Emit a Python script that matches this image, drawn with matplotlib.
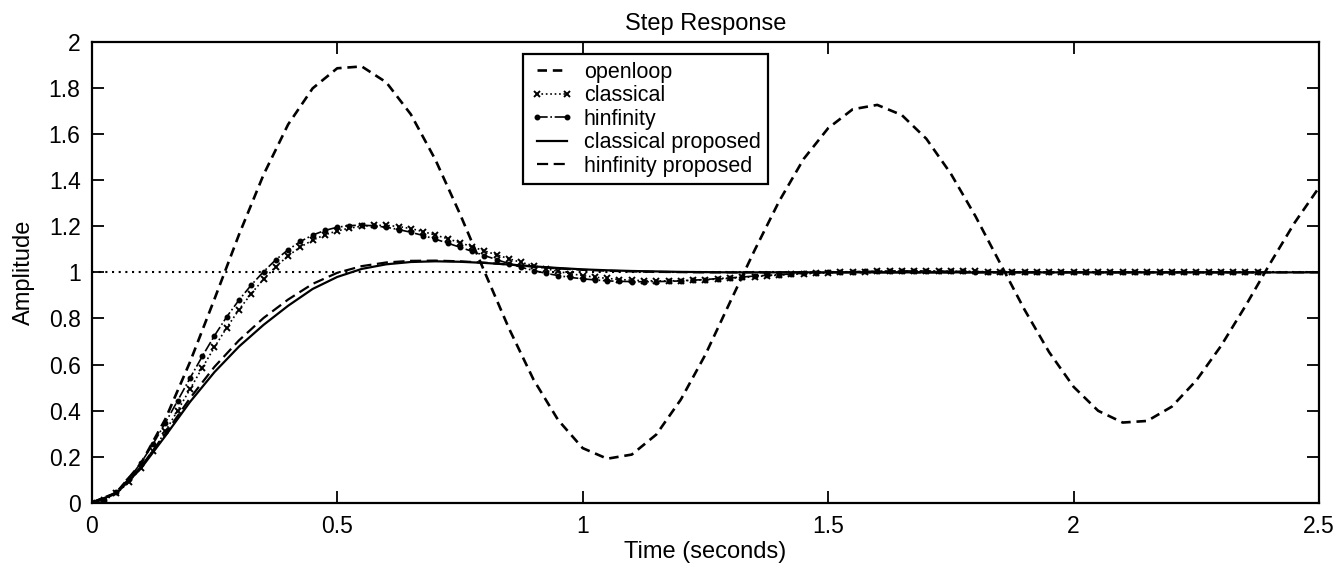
import numpy as np
import matplotlib
matplotlib.use('Agg')
import matplotlib.pyplot as plt

plt.rcParams['font.family'] = ['Liberation Sans', 'DejaVu Sans']

# sampling grids (s)
t_coarse = np.round(np.arange(51) * 0.05, 3)   # 0 .. 2.5
t_fine = np.round(np.arange(96) * 0.025, 3)     # 0 .. 2.375

openloop = [0.000, 0.043, 0.169, 0.363, 0.610, 0.884, 1.164, 1.424, 1.642, 1.799,
            1.886, 1.894, 1.825, 1.686, 1.489, 1.254, 1.003, 0.756, 0.534, 0.359,
            0.237, 0.191, 0.209, 0.296, 0.448, 0.643, 0.870, 1.095, 1.308, 1.492,
            1.626, 1.708, 1.727, 1.683, 1.580, 1.428, 1.244, 1.041, 0.838, 0.654,
            0.503, 0.399, 0.348, 0.355, 0.417, 0.531, 0.680, 0.854, 1.038, 1.215,
            1.369]

classical = [0.000, 0.010, 0.040, 0.088, 0.150, 0.225, 0.310, 0.400, 0.492, 0.585,
             0.675, 0.760, 0.838, 0.908, 0.970, 1.025, 1.072, 1.110, 1.140, 1.163,
             1.180, 1.192, 1.200, 1.204, 1.204, 1.199, 1.190, 1.177, 1.162, 1.146,
             1.129, 1.111, 1.093, 1.076, 1.059, 1.043, 1.029, 1.016, 1.004, 0.994,
             0.986, 0.979, 0.974, 0.969, 0.966, 0.964, 0.963, 0.963, 0.964, 0.966,
             0.968, 0.971, 0.974, 0.978, 0.981, 0.985, 0.988, 0.991, 0.994, 0.996,
             0.998, 1.000, 1.002, 1.003, 1.004, 1.005, 1.005, 1.006, 1.006, 1.005,
             1.005, 1.004, 1.004, 1.003, 1.002, 1.002, 1.001, 1.001, 1.000, 1.000,
             1.000, 1.000, 1.000, 1.000, 1.000, 1.000, 1.000, 1.000, 1.000, 1.000,
             1.000, 1.000, 1.000, 1.000, 1.000, 1.000]

hinfinity = [0.000, 0.012, 0.047, 0.102, 0.172, 0.255, 0.347, 0.443, 0.540, 0.635,
             0.725, 0.807, 0.880, 0.945, 1.003, 1.055, 1.098, 1.134, 1.162, 1.182,
             1.196, 1.203, 1.205, 1.202, 1.196, 1.186, 1.174, 1.160, 1.144, 1.127,
             1.109, 1.091, 1.073, 1.055, 1.038, 1.022, 1.008, 0.996, 0.986, 0.978,
             0.972, 0.967, 0.963, 0.961, 0.960, 0.959, 0.960, 0.961, 0.963, 0.966,
             0.969, 0.973, 0.976, 0.980, 0.984, 0.987, 0.990, 0.993, 0.996, 0.998,
             1.000, 1.002, 1.003, 1.004, 1.005, 1.006, 1.006, 1.006, 1.006, 1.005,
             1.005, 1.004, 1.003, 1.002, 1.002, 1.001, 1.000, 1.000, 1.000, 1.000,
             1.000, 1.000, 1.000, 1.000, 1.000, 1.000, 1.000, 1.000, 1.000, 1.000,
             1.000, 1.000, 1.000, 1.000, 1.000, 1.000]

classical_prop = [0.000, 0.040, 0.148, 0.290, 0.437, 0.567, 0.678, 0.772, 0.855, 0.928,
                  0.980, 1.015, 1.035, 1.045, 1.048, 1.046, 1.041, 1.034, 1.026, 1.019,
                  1.013, 1.009, 1.006, 1.004, 1.002, 1.001, 1.000, 1.000, 1.000, 1.000,
                  1.000, 1.000, 1.000, 1.000, 1.000, 1.000, 1.000, 1.000, 1.000, 1.000,
                  1.000, 1.000, 1.000, 1.000, 1.000, 1.000, 1.000, 1.000, 1.000, 1.000,
                  1.000]

hinf_prop = [0.000, 0.042, 0.155, 0.300, 0.453, 0.590, 0.705, 0.802, 0.882, 0.950,
             0.998, 1.027, 1.043, 1.050, 1.051, 1.048, 1.042, 1.034, 1.025, 1.017,
             1.011, 1.007, 1.004, 1.002, 1.001, 1.000, 1.000, 1.000, 1.000, 1.000,
             1.000, 1.000, 1.000, 1.000, 1.000, 1.000, 1.000, 1.000, 1.000, 1.000,
             1.000, 1.000, 1.000, 1.000, 1.000, 1.000, 1.000, 1.000, 1.000, 1.000,
             1.000]

x_ticks = [0, 0.5, 1, 1.5, 2, 2.5]
x_tick_labels = ['0', '0.5', '1', '1.5', '2', '2.5']
y_ticks = [0, 0.2, 0.4, 0.6, 0.8, 1, 1.2, 1.4, 1.6, 1.8, 2]
y_tick_labels = ['0', '0.2', '0.4', '0.6', '0.8', '1', '1.2', '1.4', '1.6', '1.8', '2']
steady_state = 1.0


fig = plt.figure(figsize=(13.43, 5.74), dpi=100)
ax = fig.add_axes([0.0683, 0.1242, 0.9139, 0.8026])

ax.axhline(steady_state, color='black', linestyle=(0, (1, 2.2)), linewidth=1.5)

ax.plot(t_coarse, openloop, color='black', linestyle=(0, (3.6, 2.2)), linewidth=1.9,
        label='openloop')
ax.plot(t_fine, classical, color='black', linestyle=':', linewidth=1.2,
        marker='x', markersize=4.5, markeredgewidth=1.4, label='classical')
ax.plot(t_fine, hinfinity, color='black', linestyle='-.', linewidth=1.2,
        marker='.', markersize=6.5, label='hinfinity')
ax.plot(t_coarse, classical_prop, color='black', linestyle='-', linewidth=1.6,
        label='classical proposed')
ax.plot(t_coarse, hinf_prop, color='black', linestyle=(0, (5, 2.5)), linewidth=1.6,
        label='hinfinity proposed')

ax.set_xlim(0, 2.5)
ax.set_ylim(0, 2)
ax.set_xticks(x_ticks)
ax.set_xticklabels(x_tick_labels)
ax.set_yticks(y_ticks)
ax.set_yticklabels(y_tick_labels)
ax.tick_params(axis='both', direction='in', top=True, right=True, length=8.5,
               width=1.3, labelsize=16.5)
ax.tick_params(axis='x', pad=9)
ax.tick_params(axis='y', pad=8)
for s in ax.spines.values():
    s.set_linewidth(1.6)

ax.set_xlabel('Time (seconds)', fontsize=17, labelpad=2)
ax.set_ylabel('Amplitude', fontsize=17, labelpad=10)
ax.set_title('Step Response', fontsize=17, pad=9)

leg = ax.legend(loc='upper left', bbox_to_anchor=(0.351, 0.974), borderaxespad=0,
                fontsize=15.5, handlelength=2.0, handletextpad=0.5, labelspacing=0.12,
                borderpad=0.35, numpoints=2, fancybox=False, framealpha=1)
leg.get_frame().set_edgecolor('black')
leg.get_frame().set_linewidth(1.6)

fig.savefig('out.png', dpi=100)
